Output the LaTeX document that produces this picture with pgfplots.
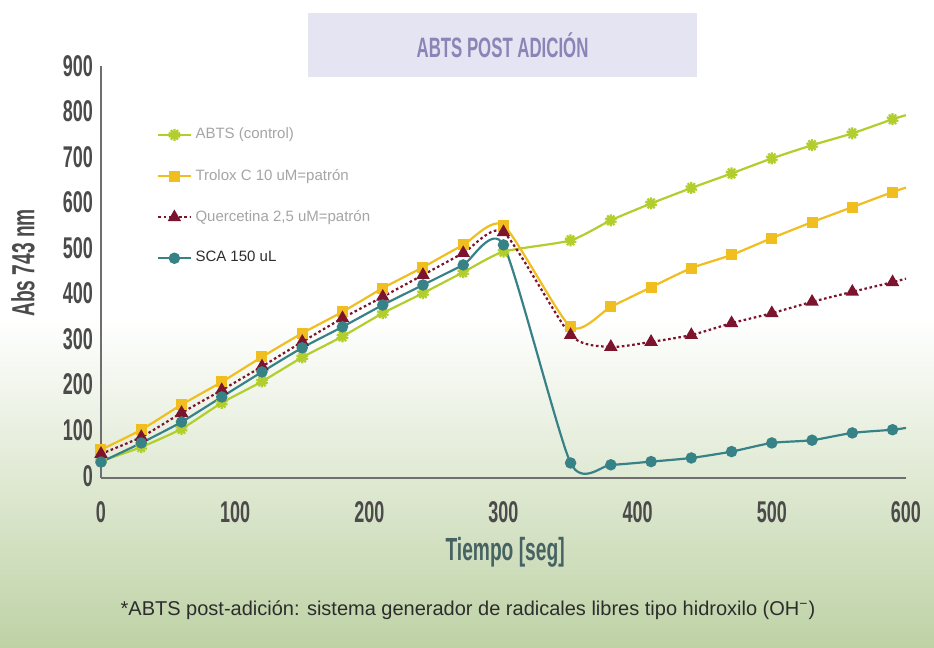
\documentclass[border=0pt]{standalone}
\usepackage{fontspec}
\setmainfont{Liberation Sans}
\newfontfamily\cond[FakeStretch=0.6]{Liberation Sans}
\usepackage{pgfplots}
\pgfplotsset{compat=1.18}
\usepackage{pgfplotstable}
\usetikzlibrary{plotmarks}

\definecolor{abts}{RGB}{178,206,45}
\definecolor{trolox}{RGB}{240,190,30}
\definecolor{querc}{RGB}{125,20,45}
\definecolor{sca}{RGB}{55,130,135}
\definecolor{bgbottom}{RGB}{190,210,165}
\definecolor{titlebg}{RGB}{228,228,242}
\definecolor{titletext}{RGB}{140,132,182}
\definecolor{tickgray}{RGB}{75,75,75}
\definecolor{axisgray}{RGB}{110,110,110}
\definecolor{xlabcol}{RGB}{70,98,98}
\definecolor{leggray}{RGB}{165,165,165}
\definecolor{footgray}{RGB}{45,45,45}

\pgfplotstableread{
t   abts trolox querc sca
0   32   57     48    30
30  63   101    85    72
60  103  156    138   118
90  160  206    188   173
120 207  261    240   228
150 260  313    294   281
180 306  360    346   327
210 357  412    393   375
240 401  458    441   419
270 447  507    489   463
300 492  550    535   507
350 517  327    309   28
380 561  371    283   24
410 598  414    294   31
440 632  456    309   39
470 664  485    335   53
500 697  522    357   72
530 726  557    382   78
560 752  590    404   94
590 783  623    425   101
600 792  633    433   105
}\datatable

\begin{document}
\begin{tikzpicture}[x=1pt,y=1pt]
\fill[white] (0,0) rectangle (467,324);
\shade[top color=white, bottom color=bgbottom] (0,0) rectangle (467,165);
\begin{axis}[
  at={(50.5pt,85pt)}, anchor=south west,
  scale only axis, width=402.5pt, height=206pt,
  xmin=0, xmax=600, ymin=-5, ymax=900,
  axis lines*=left,
  axis line style={draw=axisgray, line width=0.75pt},
  xtick={0,100,...,600}, ytick={0,100,...,900},
  major tick length=0pt,
  tick label style={font=\cond\bfseries\fontsize{15}{15}\selectfont, text=tickgray},
  /pgf/number format/assume math mode=true,
  xticklabel style={yshift=-8pt},
  yticklabel style={xshift=-0.5pt},
  clip=false,
  xlabel={Tiempo [seg]},
  xlabel style={at={(axis description cs:0.502,-0.18)}, anchor=center, font=\cond\bfseries\fontsize{16}{16}\selectfont, text=xlabcol},
  ylabel={Abs 743 nm},
  ylabel style={at={(axis description cs:-0.0969,0.522)}, anchor=center, rotate=0, font=\cond\bfseries\fontsize{16}{16}\selectfont, text=tickgray},
  title={ABTS POST ADICIÓN},
  title style={at={(axis description cs:0.4988,1.022)}, anchor=center, fill=titlebg, minimum width=194.5pt, minimum height=32pt, text=titletext, font=\cond\bfseries\fontsize{14}{14}\selectfont},
  legend style={at={(axis description cs:0.062,0.87)}, anchor=north west, draw=none, fill=none, font=\fontsize{7.5}{9}\selectfont, row sep=9.6pt},
  legend cell align=left,
  legend image code/.code={\draw[mark indices={2}] plot coordinates {(0pt,0pt) (8pt,0pt) (16pt,0pt)};},
  every axis plot/.append style={line width=1.1pt, smooth, tension=0.38, mark indices={1,...,20}},
]
\addplot[abts, mark=10-pointed star, mark size=3pt, mark options={solid}] table[x=t,y=abts]{\datatable};
\addlegendentry{\textcolor{leggray}{ABTS (control)}}
\addplot[trolox, mark=square*, mark size=2.2pt, mark options={solid}] table[x=t,y=trolox]{\datatable};
\addlegendentry{\textcolor{leggray}{Trolox C 10 uM=patrón}}
\addplot[querc, dash pattern=on 1.3pt off 1.3pt, mark=triangle*, mark size=2.8pt, mark options={solid}] table[x=t,y=querc]{\datatable};
\addlegendentry{\textcolor{leggray}{Quercetina 2,5 uM=patrón}}
\addplot[sca, mark=*, mark size=2.3pt, mark options={solid}] table[x=t,y=sca]{\datatable};
\addlegendentry{\textcolor{footgray}{SCA 150 uL}}
\end{axis}
\node[font=\fontsize{10}{11}\selectfont, text=footgray] at (234,19) {*ABTS post-adición: sistema generador de radicales libres tipo hidroxilo (OH\textsuperscript{−})};
\pgfresetboundingbox
\useasboundingbox (0,0) rectangle (467,324);
\end{tikzpicture}
\end{document}
